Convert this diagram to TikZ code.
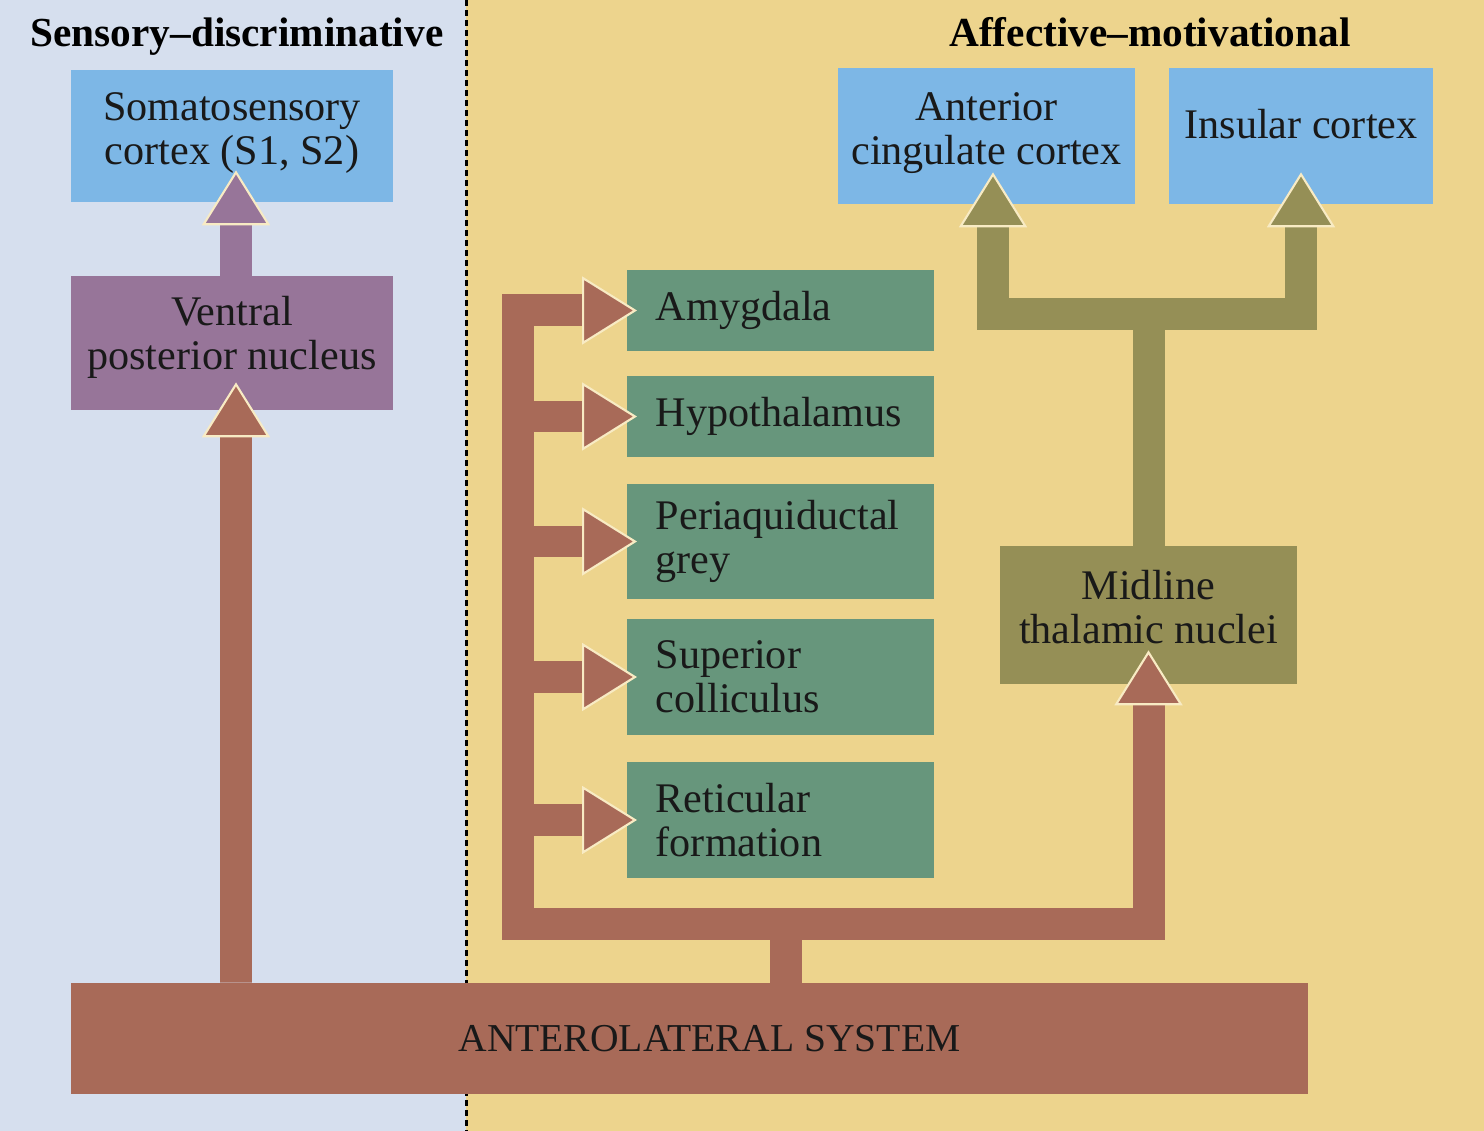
\documentclass[tikz,border=0pt]{standalone}
\usepackage{fontspec}
\setmainfont{Liberation Serif}
\usetikzlibrary{arrows.meta}

\definecolor{sensorybg}{HTML}{D6DFEE}
\definecolor{affectbg}{HTML}{EDD48D}
\definecolor{cortexblue}{HTML}{7DB7E6}
\definecolor{vpnpurple}{HTML}{977599}
\definecolor{alsred}{HTML}{A86A58}
\definecolor{targetgreen}{HTML}{67967C}
\definecolor{thalolive}{HTML}{958F56}
\definecolor{tipcream}{HTML}{F8EBC4}

\tikzset{
    region/.style={rectangle,inner sep=0pt,align=center,text=black!90,
        font=\fontsize{24}{25}\selectfont},
    target/.style={region,fill=targetgreen,anchor=west,align=left,
        text width=5.0cm,inner xsep=0.57cm},
    heading/.style={inner sep=0pt,anchor=base,font=\bfseries\fontsize{23.5}{25}\selectfont},
    pipe/.style={line width=0.64cm,line join=miter},
    tip/.style={-{Triangle[width=1.36cm,length=1.1cm,fill=#1,color=tipcream,line width=1.2pt]}},
    redarrow/.style={pipe,draw=alsred,tip=alsred},
    purplearrow/.style={pipe,draw=vpnpurple,tip=vpnpurple},
    olivearrow/.style={pipe,draw=thalolive,tip=thalolive}
}

\begin{document}
\begin{tikzpicture}[x=0.02cm,y=-0.02cm]
        \useasboundingbox (0,0) rectangle (1484,1131);
        \fill[sensorybg] (0,0) rectangle (466,1131);
        \fill[affectbg] (466,0) rectangle (1484,1131);
        \draw[line width=0.06cm,dash pattern=on 0.13cm off 0.07cm] (466,0) -- (466,1131);

        \node[heading] (sdtitle) at (237,47) {Sensory--discriminative};
        \node[heading] (amtitle) at (1150,47) {Affective--motivational};

        \node[region,fill=cortexblue,minimum width=6.44cm,minimum height=2.64cm,text depth=0.3cm] (somato) at (232,136)
            {Somatosensory\\cortex (S1, S2)};
        \node[region,fill=vpnpurple,minimum width=6.44cm,minimum height=2.68cm,text depth=0.4cm] (vpn) at (232,343)
            {Ventral\\posterior nucleus};
        \node[region,fill=cortexblue,minimum width=5.94cm,minimum height=2.72cm,text depth=0.3cm] (acc) at (986.5,136)
            {Anterior\\cingulate cortex};
        \node[region,fill=cortexblue,minimum width=5.28cm,minimum height=2.72cm,text depth=0.48cm] (insula) at (1301,136)
            {Insular cortex};
        \node[region,fill=thalolive,minimum width=5.94cm,minimum height=2.76cm,text depth=0.34cm] (midline) at (1148.5,615)
            {Midline\\thalamic nuclei};

        \node[target,minimum height=1.62cm] (amyg) at (627,310.5) {Amygdala};
        \node[target,minimum height=1.62cm] (hypo) at (627,416.5) {Hypothalamus};
        \node[target,minimum height=2.30cm] (pag) at (627,541.5) {Periaquiductal\\grey};
        \node[target,minimum height=2.32cm] (supcol) at (627,677) {Superior\\colliculus};
        \node[target,minimum height=2.32cm] (retform) at (627,820) {Reticular\\formation};

        \node[region,fill=alsred,minimum width=24.74cm,minimum height=2.22cm,font=\fontsize{22.5}{25}\selectfont] (als) at (689.5,1038.5)
            {\hspace{0.8cm}ANTEROLATERAL SYSTEM};

        \coordinate (hub) at (786,924);
        \coordinate (leftbend) at (518,924);
        \coordinate (rightbend) at (1148.5,924);
        \coordinate (thalhub) at (1148.5,314);

        \draw[redarrow,shorten >=-0.56cm] (als.north -| 236,0) -- ([xshift=0.08cm]vpn.south);
        \draw[purplearrow,shorten >=-0.64cm] ([xshift=0.08cm]vpn.north) -- ([xshift=0.08cm]somato.south);

        \draw[pipe,draw=alsred] (als.north -| hub) -- (hub);
        \draw[redarrow,shorten >=-0.2cm] (hub) -- (leftbend) |- (amyg.west);
        \draw[redarrow,shorten >=-0.68cm] (hub) -- (rightbend) -- (midline.south);
        \foreach \n in {hypo,pag,supcol,retform}
            \draw[redarrow,shorten >=-0.2cm] (leftbend |- \n.west) -- (\n.west);

        \draw[olivearrow,shorten >=-0.64cm] (midline.north) -- (thalhub) -| ([xshift=0.13cm]acc.south);
        \draw[olivearrow,shorten >=-0.64cm] (thalhub) -| (insula.south);
    \end{tikzpicture}
\end{document}
